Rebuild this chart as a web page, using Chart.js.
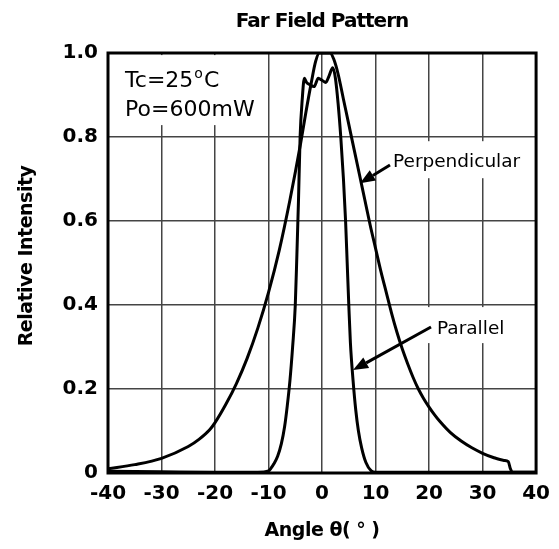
<!DOCTYPE html>
<html>
<head>
<meta charset="utf-8">
<script src="https://cdn.jsdelivr.net/npm/chart.js@4.4.1/dist/chart.umd.min.js"></script>
<style>
  html, body { margin: 0; padding: 0; background: #fff; }
</style>
</head>
<body>
<canvas id="farField" width="559" height="549"></canvas>
<script>
// Far field pattern (angle in degrees, relative intensity)
const perpAngle = [-40, -35, -30, -25, -23, -21, -20, -18, -16, -14, -12, -10, -8, -6, -4, -3, -2, -1.2, -0.5, 0.5, 1.5, 2.2, 3, 4, 5, 6, 7, 8, 9, 10, 11, 12, 13, 14, 15, 16, 17, 18, 19, 20, 21, 22, 24, 26, 28, 30, 32, 34, 34.8, 35.2, 35.6, 40];
const perpIntensity = [0.01, 0.02, 0.035, 0.063, 0.08, 0.103, 0.12, 0.163, 0.213, 0.273, 0.345, 0.43, 0.53, 0.65, 0.785, 0.86, 0.93, 0.98, 1.0, 1.0, 1.0, 0.985, 0.95, 0.89, 0.83, 0.77, 0.71, 0.65, 0.59, 0.535, 0.48, 0.43, 0.38, 0.335, 0.295, 0.26, 0.228, 0.2, 0.177, 0.157, 0.139, 0.123, 0.096, 0.076, 0.06, 0.047, 0.037, 0.03, 0.027, 0.01, 0.002, 0.002];

const paraAngle = [-40, -30, -20, -12, -10, -9.5, -9, -8.3, -7.6, -7, -6.5, -6, -5.5, -5, -4.7, -4.4, -4.1, -3.7, -3.3, -2.9, -2.3, -1.5, -0.7, 0, 0.7, 1.3, 2.0, 2.5, 3.0, 3.5, 4.0, 4.4, 4.7, 5.0, 5.3, 5.8, 6.3, 6.8, 7.4, 8.2, 9.2, 10, 20, 40];
const paraIntensity = [0.004, 0.003, 0.002, 0.002, 0.005, 0.012, 0.022, 0.04, 0.07, 0.11, 0.16, 0.22, 0.3, 0.4, 0.52, 0.65, 0.8, 0.89, 0.94, 0.93, 0.925, 0.92, 0.94, 0.935, 0.93, 0.945, 0.965, 0.94, 0.88, 0.8, 0.7, 0.6, 0.5, 0.4, 0.31, 0.22, 0.15, 0.1, 0.06, 0.025, 0.005, 0.002, 0.002, 0.002];

const chartTitle = 'Far Field Pattern';
const xTitle = 'Angle \u03b8( \u00b0 )';
const yTitle = 'Relative Intensity';

const toPoints = (xs, ys) => xs.map((v, i) => ({ x: v, y: ys[i] }));

function arrow(ctx, x1, y1, x2, y2) {
    const ang = Math.atan2(y2 - y1, x2 - x1);
    const len = 15, half = 6;
    const bx = x2 - len * Math.cos(ang), by = y2 - len * Math.sin(ang);
    ctx.beginPath();
    ctx.moveTo(x1, y1);
    ctx.lineTo(bx, by);
    ctx.stroke();
    ctx.beginPath();
    ctx.moveTo(x2, y2);
    ctx.lineTo(bx + half * Math.sin(ang), by - half * Math.cos(ang));
    ctx.lineTo(bx - half * Math.sin(ang), by + half * Math.cos(ang));
    ctx.closePath();
    ctx.fill();
}

// white boxes behind the notes hide the grid, like in the original sheet
const noteBoxes = {
    id: 'noteBoxes',
    beforeDatasetsDraw(chart) {
        const { ctx, scales: { x, y } } = chart;
        ctx.save();
        ctx.fillStyle = '#fff';
        ctx.fillRect(x.getPixelForValue(-39), y.getPixelForValue(0.995), 150, 70);
        ctx.fillRect(x.getPixelForValue(12), y.getPixelForValue(0.79), 145, 37);
        ctx.fillRect(x.getPixelForValue(19.6), y.getPixelForValue(0.395), 75, 36);
        ctx.restore();
    },
    afterDatasetsDraw(chart) {
        const { ctx, chartArea: a, scales: { x, y } } = chart;
        ctx.save();
        ctx.fillStyle = '#000';
        ctx.strokeStyle = '#000';
        ctx.textBaseline = 'alphabetic';

        // conditions
        ctx.font = '22px "DejaVu Sans"';
        let tx = x.getPixelForValue(-36.8);
        ctx.fillText('Tc=25', tx, 87);
        tx += ctx.measureText('Tc=25').width;
        ctx.font = '14px "DejaVu Sans"';
        ctx.fillText('o', tx + 1, 78);
        tx += ctx.measureText('o').width + 2;
        ctx.font = '22px "DejaVu Sans"';
        ctx.fillText('C', tx, 87);
        ctx.fillText('Po=600mW', x.getPixelForValue(-36.8), 116);

        // curve labels with arrows
        ctx.font = '18.5px "DejaVu Sans"';
        ctx.fillText('Perpendicular', 393, 167);
        ctx.fillText('Parallel', 437, 334);
        ctx.lineWidth = 3;
        arrow(ctx, 390, 165, x.getPixelForValue(7.1), y.getPixelForValue(0.69));
        arrow(ctx, 431, 327, x.getPixelForValue(5.8), y.getPixelForValue(0.245));

        // plot frame
        ctx.lineWidth = 3;
        ctx.strokeRect(a.left, a.top, a.right - a.left, a.bottom - a.top);
        ctx.restore();
    },
    afterDraw(chart) {
        const { ctx, chartArea: a } = chart;
        ctx.save();
        ctx.fillStyle = '#000';
        ctx.textAlign = 'center';
        ctx.textBaseline = 'middle';
        ctx.font = 'bold 20px "DejaVu Sans"';
        ctx.letterSpacing = '-1px';
        ctx.fillText(chartTitle, (a.left + a.right) / 2, 22);
        ctx.font = 'bold 19px "DejaVu Sans"';
        ctx.letterSpacing = '-0.5px';
        ctx.fillText(xTitle, (a.left + a.right) / 2, 531);
        ctx.translate(27, 256);
        ctx.rotate(-Math.PI / 2);
        ctx.fillText(yTitle, 0, 0);
        ctx.restore();
    }
};

const ctx = document.getElementById('farField').getContext('2d');
new Chart(ctx, {
    type: 'line',
    data: {
        datasets: [
            { label: 'Perpendicular', data: toPoints(perpAngle, perpIntensity) },
            { label: 'Parallel', data: toPoints(paraAngle, paraIntensity) }
        ]
    },
    options: {
        responsive: false,
        animation: false,
        layout: { padding: { top: 53, right: 22, bottom: 0, left: 0 } },
        elements: {
            line: { borderColor: '#000', borderWidth: 3, cubicInterpolationMode: 'monotone', fill: false },
            point: { radius: 0 }
        },
        plugins: {
            legend: { display: false },
            title: { display: false },
            tooltip: { enabled: false }
        },
        scales: {
            x: {
                type: 'linear',
                min: -40, max: 40,
                afterFit: s => { s.height = 76; },
                ticks: { stepSize: 10, color: '#000', padding: 9, font: { family: 'DejaVu Sans', size: 20, weight: 'bold' } },
                grid: { color: '#444', lineWidth: 1.5, drawTicks: false },
                border: { display: false }
            },
            y: {
                min: 0, max: 1,
                afterFit: s => { s.width = 108; },
                ticks: {
                    stepSize: 0.2, color: '#000', padding: 10,
                    font: { family: 'DejaVu Sans', size: 20, weight: 'bold' },
                    callback: v => v === 0 ? '0' : v.toFixed(1)
                },
                grid: { color: '#444', lineWidth: 1.5, drawTicks: false },
                border: { display: false }
            }
        }
    },
    plugins: [noteBoxes]
});
</script>
</body>
</html>
